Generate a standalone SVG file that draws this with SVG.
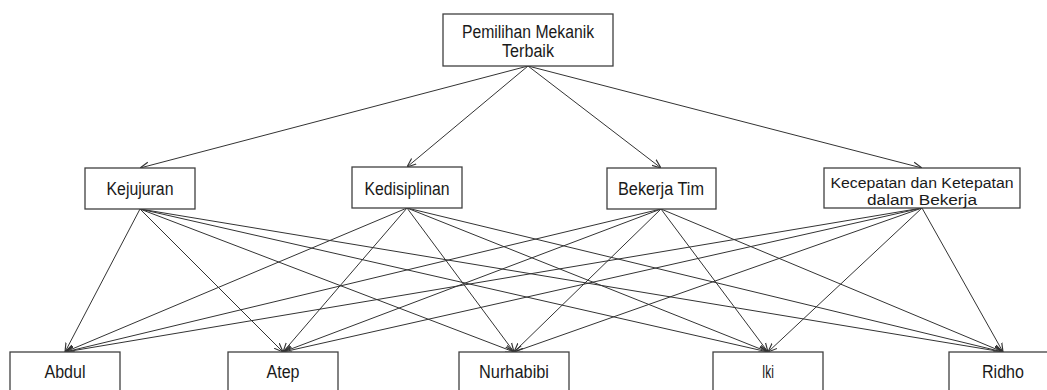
<svg xmlns="http://www.w3.org/2000/svg" width="1047" height="390" viewBox="0 0 1047 390">
<style>
.box{fill:#fff;stroke:#404040;stroke-width:1.3}
.t{font-family:"Liberation Sans",Arial,sans-serif;font-size:18px;fill:#1a1a1a;text-anchor:middle}
.s{font-size:15.5px}
.c line{stroke:#333;stroke-width:1;marker-end:url(#ah)}
</style>
<defs>
<marker id="ah" viewBox="0 0 10 10" refX="10" refY="5" markerWidth="9" markerHeight="9" markerUnits="userSpaceOnUse" orient="auto">
<path d="M0,1 L10,5 L0,9" fill="none" stroke="#333" stroke-width="1.3"/>
</marker>
</defs>
<rect width="1047" height="390" fill="#fff"/>
<g class="c" id="connectors">
<line x1="528" y1="66" x2="140" y2="168"/>
<line x1="528" y1="66" x2="407" y2="167"/>
<line x1="528" y1="66" x2="661" y2="168"/>
<line x1="528" y1="66" x2="922" y2="168"/>
<line x1="140" y1="209" x2="65" y2="352"/>
<line x1="140" y1="209" x2="283" y2="352"/>
<line x1="140" y1="209" x2="514" y2="352"/>
<line x1="140" y1="209" x2="768" y2="352"/>
<line x1="140" y1="209" x2="1003" y2="352"/>
<line x1="407" y1="208" x2="65" y2="352"/>
<line x1="407" y1="208" x2="283" y2="352"/>
<line x1="407" y1="208" x2="514" y2="352"/>
<line x1="407" y1="208" x2="768" y2="352"/>
<line x1="407" y1="208" x2="1003" y2="352"/>
<line x1="661" y1="209" x2="65" y2="352"/>
<line x1="661" y1="209" x2="283" y2="352"/>
<line x1="661" y1="209" x2="514" y2="352"/>
<line x1="661" y1="209" x2="768" y2="352"/>
<line x1="661" y1="209" x2="1003" y2="352"/>
<line x1="922" y1="208" x2="65" y2="352"/>
<line x1="922" y1="208" x2="283" y2="352"/>
<line x1="922" y1="208" x2="514" y2="352"/>
<line x1="922" y1="208" x2="768" y2="352"/>
<line x1="922" y1="208" x2="1003" y2="352"/>
</g>
<g id="goal"><rect class="box" x="443" y="14" width="170" height="52"/><text class="t" x="528" y="38" textLength="132" lengthAdjust="spacingAndGlyphs">Pemilihan Mekanik</text><text class="t" x="528" y="57" textLength="52" lengthAdjust="spacingAndGlyphs">Terbaik</text></g>
<g id="kejujuran"><rect class="box" x="85" y="168" width="110" height="41"/><text class="t" x="140" y="195" textLength="67" lengthAdjust="spacingAndGlyphs">Kejujuran</text></g>
<g id="kedisiplinan"><rect class="box" x="352" y="167" width="110" height="41"/><text class="t" x="407" y="195" textLength="85" lengthAdjust="spacingAndGlyphs">Kedisiplinan</text></g>
<g id="bekerja-tim"><rect class="box" x="607" y="168" width="109" height="41"/><text class="t" x="661" y="195" textLength="86" lengthAdjust="spacingAndGlyphs">Bekerja Tim</text></g>
<g id="kecepatan"><rect class="box" x="824" y="168" width="196" height="40"/><text class="t s" x="922" y="187.5" textLength="183" lengthAdjust="spacingAndGlyphs">Kecepatan dan Ketepatan</text><text class="t s" x="922" y="205" textLength="110" lengthAdjust="spacingAndGlyphs">dalam Bekerja</text></g>
<g id="abdul"><rect class="box" x="10" y="352" width="110" height="50"/><text class="t" x="65" y="378" textLength="41" lengthAdjust="spacingAndGlyphs">Abdul</text></g>
<g id="atep"><rect class="box" x="228" y="352" width="110" height="50"/><text class="t" x="283" y="378" textLength="33" lengthAdjust="spacingAndGlyphs">Atep</text></g>
<g id="nurhabibi"><rect class="box" x="459" y="352" width="110" height="50"/><text class="t" x="514" y="378" textLength="70" lengthAdjust="spacingAndGlyphs">Nurhabibi</text></g>
<g id="iki"><rect class="box" x="713" y="352" width="110" height="50"/><text class="t" x="768" y="378" textLength="12" lengthAdjust="spacingAndGlyphs">Iki</text></g>
<g id="ridho"><rect class="box" x="949" y="352" width="110" height="50"/><text class="t" x="1003" y="378" textLength="42" lengthAdjust="spacingAndGlyphs">Ridho</text></g>
</svg>
